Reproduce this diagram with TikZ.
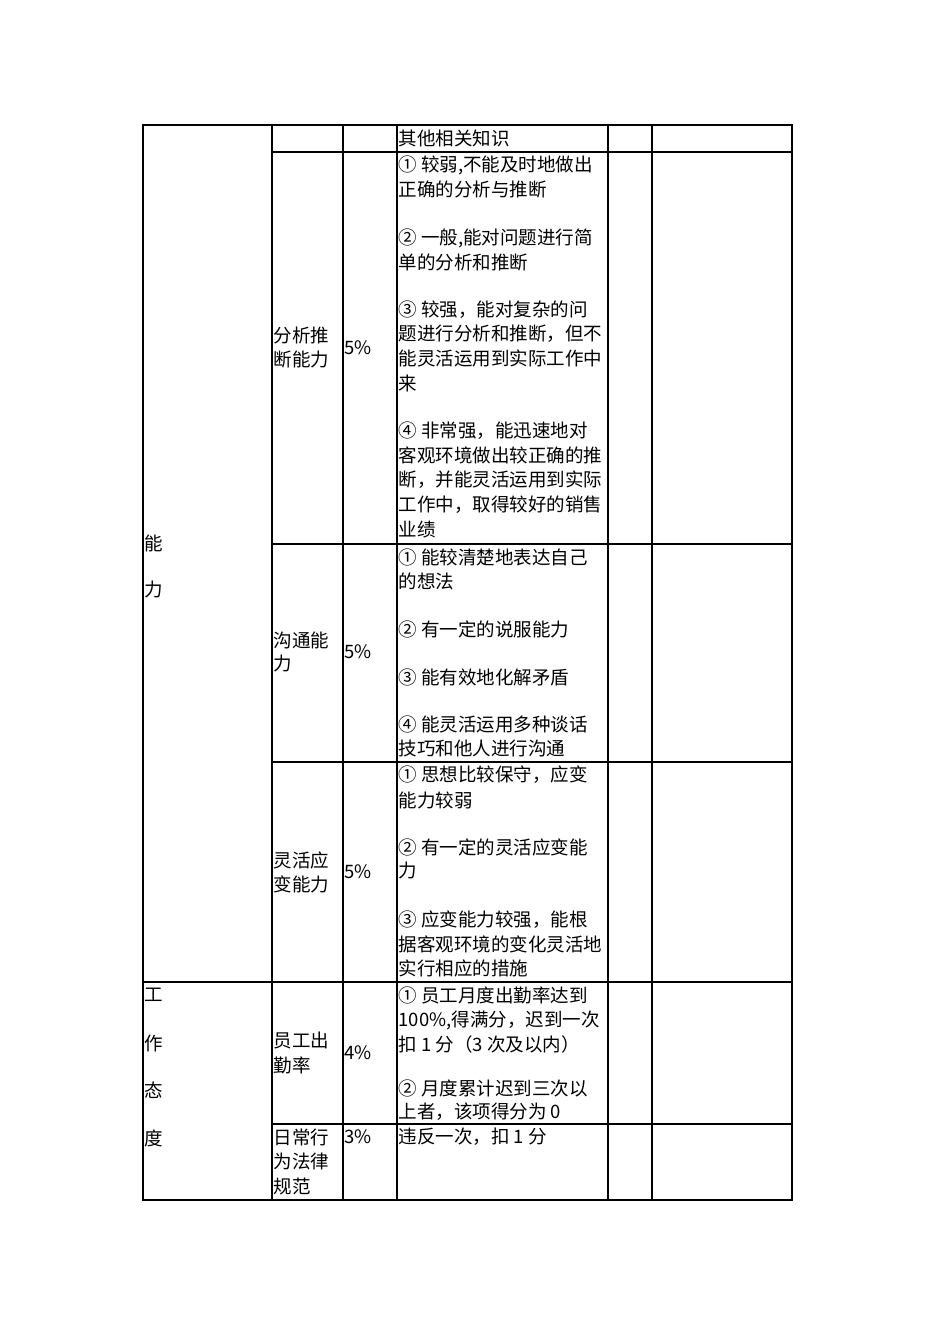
\documentclass[tikz,border=0pt]{standalone}
\usepackage{fontspec}
\setmainfont{Noto Sans CJK SC}
\begin{document}
\begin{tikzpicture}[x=1pt,y=-1pt,line width=1.3pt]
\tikzset{cell/.style={anchor=west,inner sep=0pt,font=\fontsize{18.5}{24}\selectfont}}
\useasboundingbox[fill=white] (0,0) rectangle (950,1344);
\newcommand\tx[3]{\node[cell] at (#1,#2) {#3};}
% grid
\draw (143,125) rectangle (792,1200);
\foreach \x in {272,343,397,608,652} \draw (\x,125) -- (\x,1200);
\foreach \y in {152,544,762,1124} \draw (272,\y) -- (792,\y);
\draw (143,982) -- (792,982);
% first row
\tx{398}{138}{其他相关知识}
% analysis
\tx{273}{335}{分析推}\tx{273}{359}{断能力}\tx{344}{348}{5\%}
\tx{398}{165}{① 较弱,不能及时地做出}
\tx{398}{189}{正确的分析与推断}
\tx{398}{238}{② 一般,能对问题进行简}
\tx{398}{262}{单的分析和推断}
\tx{398}{310}{③ 较强，能对复杂的问}
\tx{398}{334}{题进行分析和推断，但不}
\tx{398}{358}{能灵活运用到实际工作中}
\tx{398}{383}{来}
\tx{398}{431}{④ 非常强，能迅速地对}
\tx{398}{455}{客观环境做出较正确的推}
\tx{398}{480}{断，并能灵活运用到实际}
\tx{398}{505}{工作中，取得较好的销售}
\tx{398}{530}{业绩}
\tx{144}{543}{能}\tx{144}{590}{力}
% communication
\tx{273}{640}{沟通能}\tx{273}{664}{力}\tx{344}{652}{5\%}
\tx{398}{557}{① 能较清楚地表达自己}
\tx{398}{581}{的想法}
\tx{398}{629}{② 有一定的说服能力}
\tx{398}{677}{③ 能有效地化解矛盾}
\tx{398}{724}{④ 能灵活运用多种谈话}
\tx{398}{748}{技巧和他人进行沟通}
% flexibility
\tx{273}{860}{灵活应}\tx{273}{884}{变能力}\tx{344}{872}{5\%}
\tx{398}{775}{① 思想比较保守，应变}
\tx{398}{800}{能力较弱}
\tx{398}{847}{② 有一定的灵活应变能}
\tx{398}{871}{力}
\tx{398}{920}{③ 应变能力较强，能根}
\tx{398}{944}{据客观环境的变化灵活地}
\tx{398}{968}{实行相应的措施}
% attitude
\tx{144}{995}{工}\tx{144}{1043}{作}\tx{144}{1090}{态}\tx{144}{1138}{度}
\tx{273}{1041}{员工出}\tx{273}{1065}{勤率}\tx{344}{1053}{4\%}
\tx{398}{995}{① 员工月度出勤率达到}
\tx{398}{1020}{100\%,得满分，迟到一次}
\tx{398}{1044}{扣 1 分（3 次及以内）}
\tx{398}{1088}{② 月度累计迟到三次以}
\tx{398}{1112}{上者，该项得分为 0}
\tx{273}{1137}{日常行}\tx{273}{1161}{为法律}\tx{273}{1186}{规范}\tx{344}{1137}{3\%}
\tx{398}{1137}{违反一次，扣 1 分}
\end{tikzpicture}
\end{document}
